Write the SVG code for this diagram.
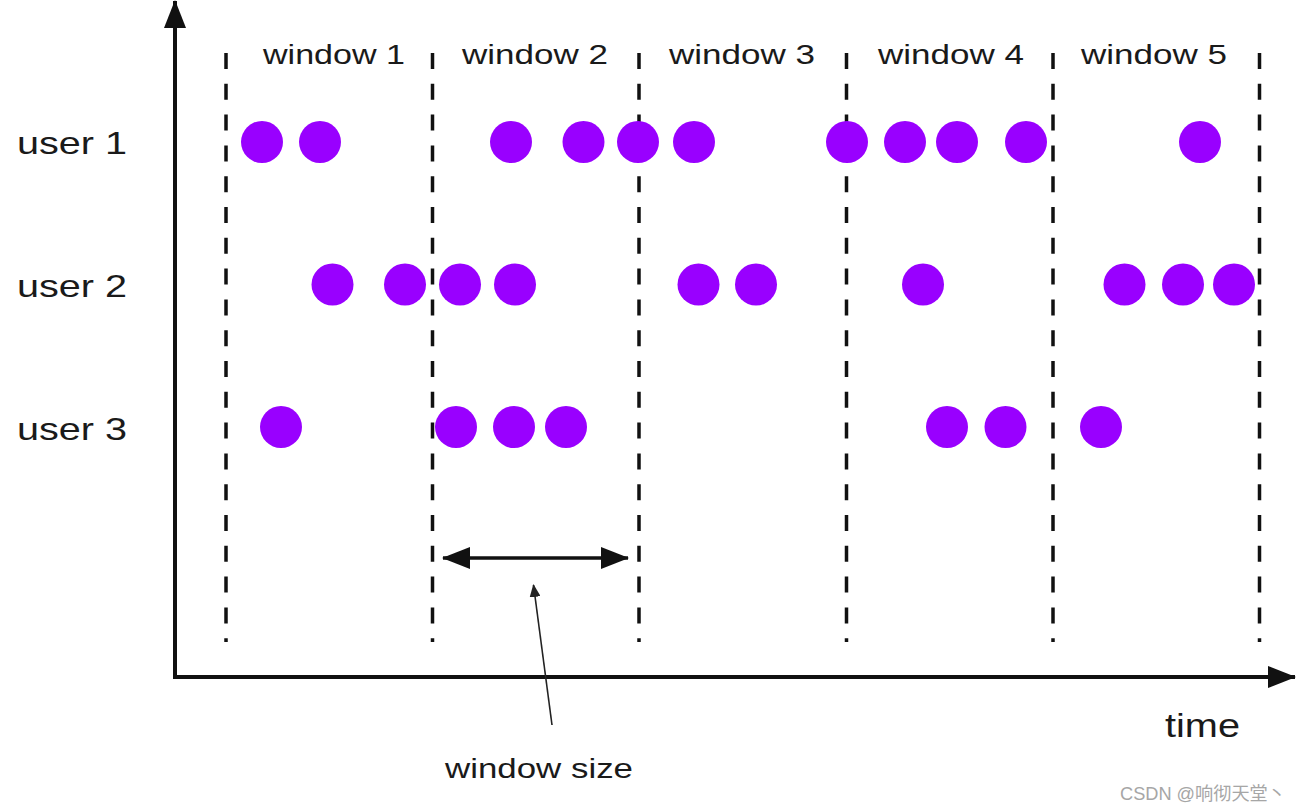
<svg xmlns="http://www.w3.org/2000/svg" width="1299" height="811" viewBox="0 0 1299 811">
  <style>
    .lbl { font-family: "Liberation Sans", Arial, sans-serif; fill: #1a1a1a; }
    .win { font-size: 28px; }
    .usr { font-size: 32px; }
    .dash { stroke: #111; stroke-width: 3.5; stroke-dasharray: 16 14.8; fill: none; }
    .dot { fill: #9900ff; }
    .axis { stroke: #111; stroke-width: 4; fill: none; }
  </style>
  <defs>
    <marker id="bigHead" viewBox="0 0 28 22" refX="27" refY="11" markerWidth="28" markerHeight="22" markerUnits="userSpaceOnUse" orient="auto-start-reverse">
      <path d="M0,0 L28,11 L0,22 Z" fill="#111"/>
    </marker>
    <marker id="smallHead" viewBox="0 0 13 11" refX="12" refY="5.5" markerWidth="13" markerHeight="11" markerUnits="userSpaceOnUse" orient="auto">
      <path d="M0,0 L13,5.5 L0,11 Z" fill="#222"/>
    </marker>
  </defs>
  <rect width="1299" height="811" fill="#ffffff"/>

  <g id="connectors">
    <line id="y-axis" class="axis" x1="175" y1="679" x2="175" y2="1" marker-end="url(#bigHead)"/>
    <line id="x-axis" class="axis" x1="173" y1="677" x2="1295" y2="677" marker-end="url(#bigHead)"/>
    <line id="window-size-arrow" x1="443" y1="558" x2="628" y2="558" stroke="#111" stroke-width="3.5" marker-start="url(#bigHead)" marker-end="url(#bigHead)"/>
    <line id="pointer" x1="552" y1="725" x2="533.5" y2="585" stroke="#222" stroke-width="1.6" marker-end="url(#smallHead)"/>
  </g>

  <g id="window-borders">
    <line class="dash" x1="226" y1="53" x2="226" y2="642"/>
    <line class="dash" x1="432.5" y1="53" x2="432.5" y2="642"/>
    <line class="dash" x1="639" y1="53" x2="639" y2="642"/>
    <line class="dash" x1="846.5" y1="53" x2="846.5" y2="642"/>
    <line class="dash" x1="1053" y1="53" x2="1053" y2="642"/>
    <line class="dash" x1="1259.5" y1="53" x2="1259.5" y2="642"/>
  </g>

  <g id="window-labels">
    <text id="window1" class="lbl win" x="263" y="64" textLength="142" lengthAdjust="spacingAndGlyphs">window 1</text>
    <text id="window2" class="lbl win" x="462" y="64" textLength="146" lengthAdjust="spacingAndGlyphs">window 2</text>
    <text id="window3" class="lbl win" x="669" y="64" textLength="146" lengthAdjust="spacingAndGlyphs">window 3</text>
    <text id="window4" class="lbl win" x="878" y="64" textLength="146" lengthAdjust="spacingAndGlyphs">window 4</text>
    <text id="window5" class="lbl win" x="1081" y="64" textLength="146" lengthAdjust="spacingAndGlyphs">window 5</text>
  </g>

  <g id="user1">
    <text class="lbl usr" x="17" y="154" textLength="110" lengthAdjust="spacingAndGlyphs">user 1</text>
    <circle class="dot" cx="262" cy="142" r="21"/>
    <circle class="dot" cx="320" cy="142" r="21"/>
    <circle class="dot" cx="511" cy="142" r="21"/>
    <circle class="dot" cx="583.5" cy="142" r="21"/>
    <circle class="dot" cx="638" cy="142" r="21"/>
    <circle class="dot" cx="694" cy="142" r="21"/>
    <circle class="dot" cx="847" cy="142" r="21"/>
    <circle class="dot" cx="905" cy="142" r="21"/>
    <circle class="dot" cx="957" cy="142" r="21"/>
    <circle class="dot" cx="1026" cy="142" r="21"/>
    <circle class="dot" cx="1200" cy="142" r="21"/>
  </g>

  <g id="user2">
    <text class="lbl usr" x="17" y="297" textLength="110" lengthAdjust="spacingAndGlyphs">user 2</text>
    <circle class="dot" cx="332.5" cy="284.5" r="21"/>
    <circle class="dot" cx="405" cy="284.5" r="21"/>
    <circle class="dot" cx="460" cy="284.5" r="21"/>
    <circle class="dot" cx="515" cy="284.5" r="21"/>
    <circle class="dot" cx="698.5" cy="284.5" r="21"/>
    <circle class="dot" cx="756" cy="284.5" r="21"/>
    <circle class="dot" cx="923" cy="284.5" r="21"/>
    <circle class="dot" cx="1124.5" cy="284.5" r="21"/>
    <circle class="dot" cx="1183" cy="284.5" r="21"/>
    <circle class="dot" cx="1234" cy="284.5" r="21"/>
  </g>

  <g id="user3">
    <text class="lbl usr" x="17" y="440" textLength="110" lengthAdjust="spacingAndGlyphs">user 3</text>
    <circle class="dot" cx="281" cy="427" r="21"/>
    <circle class="dot" cx="456" cy="427" r="21"/>
    <circle class="dot" cx="514" cy="427" r="21"/>
    <circle class="dot" cx="566" cy="427" r="21"/>
    <circle class="dot" cx="947" cy="427" r="21"/>
    <circle class="dot" cx="1005.5" cy="427" r="21"/>
    <circle class="dot" cx="1101" cy="427" r="21"/>
  </g>

  <g id="axis-labels">
    <text id="time" class="lbl" x="1165" y="737" font-size="34" textLength="75" lengthAdjust="spacingAndGlyphs">time</text>
    <text id="window-size" class="lbl" x="445" y="778" font-size="28" textLength="188" lengthAdjust="spacingAndGlyphs">window size</text>
  </g>

  <text id="watermark" x="1120" y="800" font-family="'Liberation Sans', 'Noto Sans CJK SC', sans-serif" font-size="18" fill="#a6a6a6" textLength="166" lengthAdjust="spacingAndGlyphs">CSDN @响彻天堂丶</text>
</svg>
